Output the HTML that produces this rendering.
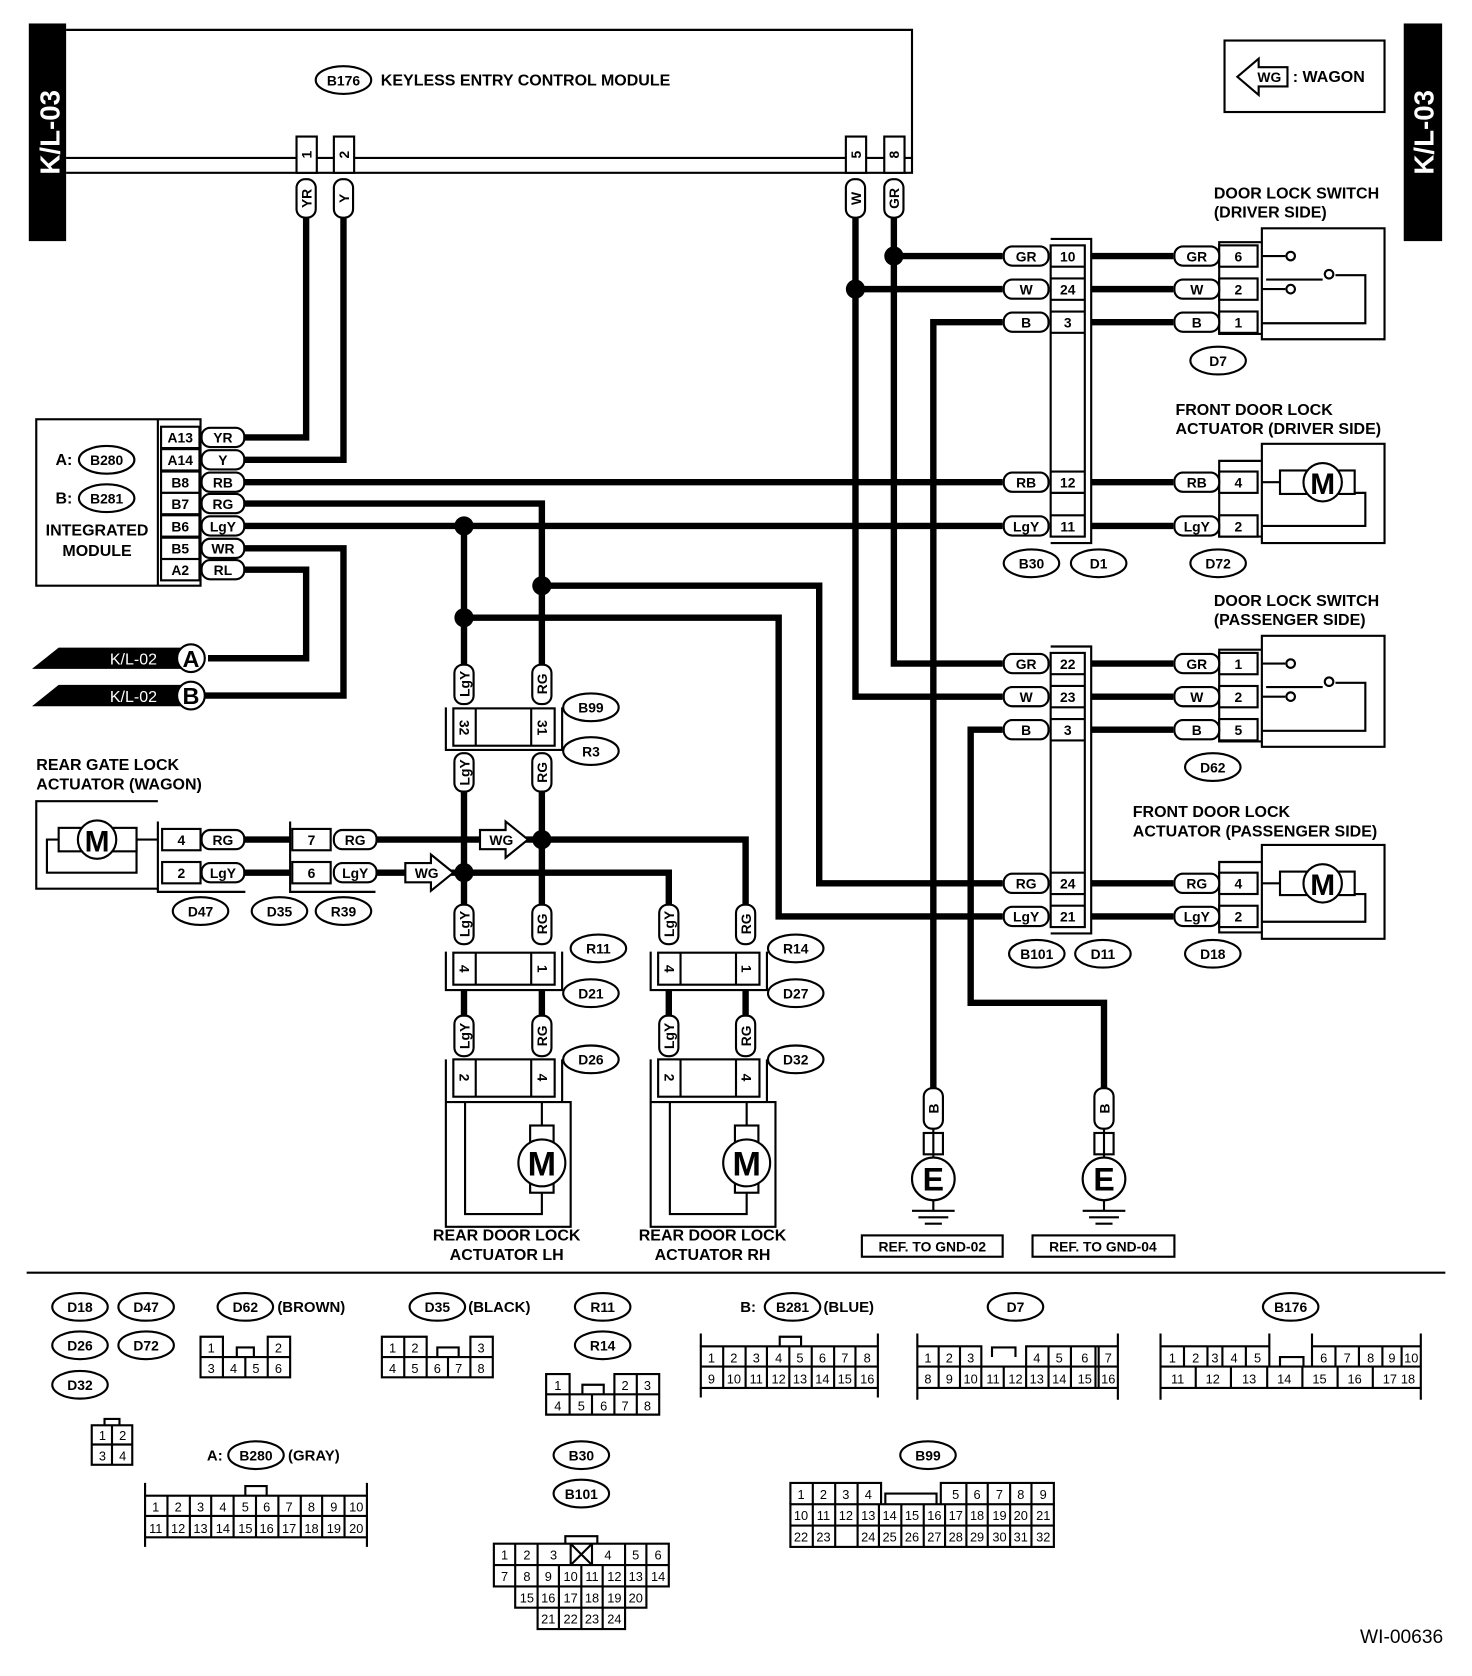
<!DOCTYPE html>
<html><head><meta charset="utf-8"><style>
html,body{margin:0;padding:0;background:#fff}
svg{display:block}
text{font-family:"Liberation Sans",Arial,sans-serif;font-weight:bold;fill:#000}
.t{font-size:15px}
.p{font-size:13px;text-anchor:middle}
.n{font-size:12px;font-weight:normal;text-anchor:middle}
.s{fill:none;stroke:#000;stroke-width:2}
.w{fill:none;stroke:#000;stroke-width:6;stroke-linejoin:miter}
.c{fill:#fff;stroke:#000;stroke-width:2}
</style></head><body>
<svg width="1472" height="1676" viewBox="0 0 1380 1571" preserveAspectRatio="none" xmlns="http://www.w3.org/2000/svg">
<rect width="1380" height="1571" fill="#fff"/>
<rect x="27" y="22" width="35" height="204" fill="#000"/>
<text transform="translate(56,124) rotate(-90)" style="font-size:26px;fill:#fff;text-anchor:middle">K/L-03</text>
<rect x="1316" y="22" width="36" height="204" fill="#000"/>
<text transform="translate(1344,124) rotate(-90)" style="font-size:26px;fill:#fff;text-anchor:middle">K/L-03</text>
<rect x="1148" y="38" width="150" height="67" class="s"/>
<polygon points="1160,72 1180,55 1180,63 1207,63 1207,81 1180,81 1180,89" class="c"/>
<text x="1190" y="77" class="p">WG</text>
<text x="1212" y="77" class="t">: WAGON</text>
<path d="M62 28 H855 V148 H62" class="s"/>
<path d="M62 162 H855 V148" class="s"/>
<ellipse cx="322" cy="75" rx="26" ry="13" class="s"/><text x="322" y="80" class="p">B176</text>
<text x="357" y="80" class="t">KEYLESS ENTRY CONTROL MODULE</text>
<g class="c"><rect x="278" y="128" width="19" height="34"/><rect x="313" y="128" width="19" height="34"/><rect x="793" y="128" width="19" height="34"/><rect x="829" y="128" width="19" height="34"/></g>
<text transform="translate(292,145) rotate(-90)" class="p">1</text>
<text transform="translate(327,145) rotate(-90)" class="p">2</text>
<text transform="translate(807,145) rotate(-90)" class="p">5</text>
<text transform="translate(843,145) rotate(-90)" class="p">8</text>
<g class="w">
<path d="M287 204 V410 H228"/><path d="M322 204 V431 H228"/>
<path d="M228 452 H940"/>
<path d="M228 472 H508 V623"/><path d="M508 742 V848"/><path d="M508 549 H768 V828 H940"/>
<path d="M228 493 H940"/><path d="M435 493 V623"/><path d="M435 742 V848"/><path d="M435 579 H730 V859 H940"/>
<path d="M228 514 H322 V652 H190"/><path d="M228 534 H287 V617 H195"/>
<path d="M838 204 V622 H940"/><path d="M838 240 H940"/>
<path d="M802 204 V653 H940"/><path d="M802 271 H940"/>
<path d="M940 302 H875 V1020"/><path d="M940 684 H910 V940 H1035 V1020"/>
<path d="M1023 240 H1100 M1023 271 H1100 M1023 302 H1100 M1023 452 H1100 M1023 493 H1100 M1023 622 H1100 M1023 653 H1100 M1023 684 H1100 M1023 828 H1100 M1023 859 H1100"/>
<path d="M228 787 H272 M228 818 H272 M352 787 H508 M352 818 H435"/>
<path d="M508 787 H699 V848"/><path d="M435 818 H627 V848"/>
<path d="M435 928 V952 M508 928 V952 M627 928 V952 M699 928 V952"/>
</g>
<g fill="#000"><circle cx="838" cy="240" r="9"/><circle cx="802" cy="271" r="9"/><circle cx="435" cy="493" r="9"/><circle cx="508" cy="549" r="9"/><circle cx="435" cy="579" r="9"/><circle cx="508" cy="787" r="9"/><circle cx="435" cy="818" r="9"/></g>
<g class="c">
<rect x="278" y="168" width="18" height="36" rx="8"/><rect x="313" y="168" width="18" height="36" rx="8"/>
<rect x="793" y="168" width="18" height="36" rx="8"/><rect x="829" y="168" width="18" height="36" rx="8"/>
<rect x="426" y="623" width="18" height="37" rx="8"/><rect x="499" y="623" width="18" height="37" rx="8"/>
<rect x="426" y="706" width="18" height="36" rx="8"/><rect x="499" y="706" width="18" height="36" rx="8"/>
<rect x="426" y="848" width="18" height="37" rx="8"/><rect x="499" y="848" width="18" height="37" rx="8"/>
<rect x="618" y="848" width="18" height="37" rx="8"/><rect x="690" y="848" width="18" height="37" rx="8"/>
<rect x="426" y="952" width="18" height="38" rx="8"/><rect x="499" y="952" width="18" height="38" rx="8"/>
<rect x="618" y="952" width="18" height="38" rx="8"/><rect x="690" y="952" width="18" height="38" rx="8"/>
<rect x="866" y="1020" width="18" height="38" rx="8"/><rect x="1026" y="1020" width="18" height="38" rx="8"/>
</g>
<g class="p">
<text transform="translate(292,186) rotate(-90)">YR</text><text transform="translate(327,186) rotate(-90)">Y</text>
<text transform="translate(807,186) rotate(-90)">W</text><text transform="translate(843,186) rotate(-90)">GR</text>
<text transform="translate(440,641) rotate(-90)">LgY</text><text transform="translate(513,641) rotate(-90)">RG</text>
<text transform="translate(440,724) rotate(-90)">LgY</text><text transform="translate(513,724) rotate(-90)">RG</text>
<text transform="translate(440,866) rotate(-90)">LgY</text><text transform="translate(513,866) rotate(-90)">RG</text>
<text transform="translate(632,866) rotate(-90)">LgY</text><text transform="translate(704,866) rotate(-90)">RG</text>
<text transform="translate(440,971) rotate(-90)">LgY</text><text transform="translate(513,971) rotate(-90)">RG</text>
<text transform="translate(632,971) rotate(-90)">LgY</text><text transform="translate(704,971) rotate(-90)">RG</text>
<text transform="translate(880,1039) rotate(-90)">B</text><text transform="translate(1040,1039) rotate(-90)">B</text>
</g>
<rect x="34" y="393" width="154" height="156" class="s"/>
<line x1="148" y1="393" x2="148" y2="549" class="s"/>
<g class="c">
<rect x="151" y="400" width="36" height="20"/><rect x="151" y="421" width="36" height="20"/><rect x="151" y="442" width="36" height="20"/><rect x="151" y="462" width="36" height="20"/><rect x="151" y="483" width="36" height="20"/><rect x="151" y="504" width="36" height="20"/><rect x="151" y="524" width="36" height="20"/>
<rect x="189" y="401" width="40" height="18" rx="8"/><rect x="189" y="422" width="40" height="18" rx="8"/><rect x="189" y="443" width="40" height="18" rx="8"/><rect x="189" y="463" width="40" height="18" rx="8"/><rect x="189" y="484" width="40" height="18" rx="8"/><rect x="189" y="505" width="40" height="18" rx="8"/><rect x="189" y="525" width="40" height="18" rx="8"/>
</g>
<g class="p">
<text x="169" y="415">A13</text><text x="169" y="436">A14</text><text x="169" y="457">B8</text><text x="169" y="477">B7</text><text x="169" y="498">B6</text><text x="169" y="519">B5</text><text x="169" y="539">A2</text>
<text x="209" y="415">YR</text><text x="209" y="436">Y</text><text x="209" y="457">RB</text><text x="209" y="477">RG</text><text x="209" y="498">LgY</text><text x="209" y="519">WR</text><text x="209" y="539">RL</text>
</g>
<text x="52" y="436" class="t">A:</text><ellipse cx="100" cy="431" rx="26" ry="13" class="s"/><text x="100" y="436" class="p">B280</text>
<text x="52" y="472" class="t">B:</text><ellipse cx="100" cy="467" rx="26" ry="13" class="s"/><text x="100" y="472" class="p">B281</text>
<text x="91" y="502" class="p" style="font-size:15px">INTEGRATED</text><text x="91" y="521" class="p" style="font-size:15px">MODULE</text>
<polygon points="30,627 55,607 170,607 170,627" fill="#000"/>
<polygon points="30,662 55,642 170,642 170,662" fill="#000"/>
<text x="103" y="623" style="font-size:15px;fill:#fff;font-weight:normal">K/L-02</text>
<text x="103" y="658" style="font-size:15px;fill:#fff;font-weight:normal">K/L-02</text>
<circle cx="179" cy="617" r="13" class="c" stroke-width="3"/><text x="179" y="625" class="p" style="font-size:22px">A</text>
<circle cx="179" cy="652" r="13" class="c" stroke-width="3"/><text x="179" y="660" class="p" style="font-size:22px">B</text>
<path d="M418 663 V703 H527 V663" class="s"/>
<rect x="425" y="664" width="95" height="35" class="c"/><line x1="446" y1="664" x2="446" y2="699" class="s"/><line x1="498" y1="664" x2="498" y2="699" class="s"/>
<text transform="translate(431,682) rotate(90)" class="p">32</text><text transform="translate(504,682) rotate(90)" class="p">31</text>
<ellipse cx="554" cy="663" rx="26" ry="13" class="s"/><text x="554" y="668" class="p">B99</text>
<ellipse cx="554" cy="704" rx="26" ry="13" class="s"/><text x="554" y="709" class="p">R3</text>
<text x="34" y="722" class="t">REAR GATE LOCK</text><text x="34" y="740" class="t">ACTUATOR (WAGON)</text>
<path d="M148 751 H34 V833 H148" class="s"/>
<path d="M148 787 H128 V818 H44 V787 H55" class="s"/>
<rect x="55" y="776" width="73" height="22" class="c"/>
<circle cx="91" cy="787" r="18" class="c"/><text x="91" y="798" class="p" style="font-size:28px">M</text>
<path d="M148 770 V836 H230" class="s"/><path d="M272 770 V836 H352" class="s"/>
<g class="c"><rect x="152" y="777" width="36" height="20"/><rect x="152" y="808" width="36" height="20"/><rect x="274" y="777" width="36" height="20"/><rect x="274" y="808" width="36" height="20"/>
<rect x="189" y="778" width="40" height="18" rx="8"/><rect x="189" y="809" width="40" height="18" rx="8"/><rect x="313" y="778" width="40" height="18" rx="8"/><rect x="313" y="809" width="40" height="18" rx="8"/></g>
<g class="p"><text x="170" y="792">4</text><text x="170" y="823">2</text><text x="292" y="792">7</text><text x="292" y="823">6</text>
<text x="209" y="792">RG</text><text x="209" y="823">LgY</text><text x="333" y="792">RG</text><text x="333" y="823">LgY</text></g>
<ellipse cx="188" cy="854" rx="26" ry="13" class="s"/><text x="188" y="859" class="p">D47</text>
<ellipse cx="262" cy="854" rx="26" ry="13" class="s"/><text x="262" y="859" class="p">D35</text>
<ellipse cx="322" cy="854" rx="26" ry="13" class="s"/><text x="322" y="859" class="p">R39</text>
<polygon points="450,778 474,778 474,770 495,787 474,804 474,796 450,796" class="c"/><text x="470" y="792" class="p">WG</text>
<polygon points="380,809 404,809 404,801 425,818 404,835 404,827 380,827" class="c"/><text x="400" y="823" class="p">WG</text>
<g>
<path d="M418 892 V928 H527 V892" class="s"/>
<rect x="425" y="893" width="95" height="30" class="c"/><line x1="446" y1="893" x2="446" y2="923" class="s"/><line x1="498" y1="893" x2="498" y2="923" class="s"/>
<path d="M418 993 V1033 H535 V1150 H418 V1033 M527 993 V1033" class="s"/>
<rect x="425" y="993" width="95" height="35" class="c"/><line x1="446" y1="993" x2="446" y2="1028" class="s"/><line x1="498" y1="993" x2="498" y2="1028" class="s"/>
<path d="M436 1033 V1138 H508 V1118 M508 1033 V1055" class="s"/>
<rect x="497" y="1055" width="22" height="63" class="c"/>
<circle cx="508" cy="1090" r="22" class="c"/><text x="508" y="1102" class="p" style="font-size:32px">M</text>
</g>
<g transform="translate(192,0)">
<path d="M418 892 V928 H527 V892" class="s"/>
<rect x="425" y="893" width="95" height="30" class="c"/><line x1="446" y1="893" x2="446" y2="923" class="s"/><line x1="498" y1="893" x2="498" y2="923" class="s"/>
<path d="M418 993 V1033 H535 V1150 H418 V1033 M527 993 V1033" class="s"/>
<rect x="425" y="993" width="95" height="35" class="c"/><line x1="446" y1="993" x2="446" y2="1028" class="s"/><line x1="498" y1="993" x2="498" y2="1028" class="s"/>
<path d="M436 1033 V1138 H508 V1118 M508 1033 V1055" class="s"/>
<rect x="497" y="1055" width="22" height="63" class="c"/>
<circle cx="508" cy="1090" r="22" class="c"/><text x="508" y="1102" class="p" style="font-size:32px">M</text>
</g>
<g class="p">
<text transform="translate(431,908) rotate(90)">4</text><text transform="translate(504,908) rotate(90)">1</text>
<text transform="translate(623,908) rotate(90)">4</text><text transform="translate(695,908) rotate(90)">1</text>
<text transform="translate(431,1010) rotate(90)">2</text><text transform="translate(504,1010) rotate(90)">4</text>
<text transform="translate(623,1010) rotate(90)">2</text><text transform="translate(695,1010) rotate(90)">4</text>
</g>
<g class="s"><ellipse cx="561" cy="889" rx="26" ry="13"/><ellipse cx="554" cy="931" rx="26" ry="13"/><ellipse cx="554" cy="993" rx="26" ry="13"/>
<ellipse cx="746" cy="889" rx="26" ry="13"/><ellipse cx="746" cy="931" rx="26" ry="13"/><ellipse cx="746" cy="993" rx="26" ry="13"/></g>
<g class="p"><text x="561" y="894">R11</text><text x="554" y="936">D21</text><text x="554" y="998">D26</text>
<text x="746" y="894">R14</text><text x="746" y="936">D27</text><text x="746" y="998">D32</text></g>
<text x="475" y="1163" class="p" style="font-size:15px">REAR DOOR LOCK</text><text x="475" y="1181" class="p" style="font-size:15px">ACTUATOR LH</text>
<text x="668" y="1163" class="p" style="font-size:15px">REAR DOOR LOCK</text><text x="668" y="1181" class="p" style="font-size:15px">ACTUATOR RH</text>
<path d="M985 224 H1023 V509 H985" class="s"/><rect x="985" y="230" width="32" height="273" class="c"/>
<path d="M985 606 H1023 V875 H985" class="s"/><rect x="985" y="612" width="32" height="257" class="c"/>
<g class="s"><path d="M985 250 H1017 M985 261 H1017 M985 281 H1017 M985 292 H1017 M985 312 H1017 M985 442 H1017 M985 462 H1017 M985 483 H1017 M985 632 H1017 M985 643 H1017 M985 663 H1017 M985 674 H1017 M985 694 H1017 M985 818 H1017 M985 838 H1017 M985 849 H1017"/></g>
<g class="c">
<rect x="941" y="231" width="42" height="18" rx="8"/><rect x="941" y="262" width="42" height="18" rx="8"/><rect x="941" y="293" width="42" height="18" rx="8"/><rect x="941" y="443" width="42" height="18" rx="8"/><rect x="941" y="484" width="42" height="18" rx="8"/>
<rect x="941" y="613" width="42" height="18" rx="8"/><rect x="941" y="644" width="42" height="18" rx="8"/><rect x="941" y="675" width="42" height="18" rx="8"/><rect x="941" y="819" width="42" height="18" rx="8"/><rect x="941" y="850" width="42" height="18" rx="8"/>
</g>
<g class="p">
<text x="962" y="245">GR</text><text x="962" y="276">W</text><text x="962" y="307">B</text><text x="962" y="457">RB</text><text x="962" y="498">LgY</text>
<text x="962" y="627">GR</text><text x="962" y="658">W</text><text x="962" y="689">B</text><text x="962" y="833">RG</text><text x="962" y="864">LgY</text>
<text x="1001" y="245">10</text><text x="1001" y="276">24</text><text x="1001" y="307">3</text><text x="1001" y="457">12</text><text x="1001" y="498">11</text>
<text x="1001" y="627">22</text><text x="1001" y="658">23</text><text x="1001" y="689">3</text><text x="1001" y="833">24</text><text x="1001" y="864">21</text>
</g>
<g class="s"><ellipse cx="967" cy="528" rx="26" ry="13"/><ellipse cx="1030" cy="528" rx="26" ry="13"/><ellipse cx="972" cy="894" rx="26" ry="13"/><ellipse cx="1034" cy="894" rx="26" ry="13"/></g>
<g class="p"><text x="967" y="533">B30</text><text x="1030" y="533">D1</text><text x="972" y="899">B101</text><text x="1034" y="899">D11</text></g>
<g class="t"><text x="1138" y="186">DOOR LOCK SWITCH</text><text x="1138" y="204">(DRIVER SIDE)</text>
<text x="1102" y="389">FRONT DOOR LOCK</text><text x="1102" y="407">ACTUATOR (DRIVER SIDE)</text>
<text x="1138" y="568">DOOR LOCK SWITCH</text><text x="1138" y="586">(PASSENGER SIDE)</text>
<text x="1062" y="766">FRONT DOOR LOCK</text><text x="1062" y="784">ACTUATOR (PASSENGER SIDE)</text></g>
<g>
<path d="M1183 214 H1298 V318 H1183 Z" class="s"/><path d="M1183 227 H1143 V313 H1183" class="s"/>
<g class="c"><rect x="1143" y="230" width="36" height="20"/><rect x="1143" y="261" width="36" height="20"/><rect x="1143" y="292" width="36" height="20"/></g>
<path d="M1183 240 H1205 M1183 271 H1205 M1187 262 H1240 M1183 303 H1280 V258 H1252" class="s"/>
<g class="c"><circle cx="1210" cy="240" r="4"/><circle cx="1210" cy="271" r="4"/><circle cx="1246" cy="257" r="4"/></g>
</g>
<g transform="translate(0,382)">
<path d="M1183 214 H1298 V318 H1183 Z" class="s"/><path d="M1183 227 H1143 V313 H1183" class="s"/>
<g class="c"><rect x="1143" y="230" width="36" height="20"/><rect x="1143" y="261" width="36" height="20"/><rect x="1143" y="292" width="36" height="20"/></g>
<path d="M1183 240 H1205 M1183 271 H1205 M1187 262 H1240 M1183 303 H1280 V258 H1252" class="s"/>
<g class="c"><circle cx="1210" cy="240" r="4"/><circle cx="1210" cy="271" r="4"/><circle cx="1246" cy="257" r="4"/></g>
</g>
<g>
<path d="M1183 416 H1298 V509 H1183 Z" class="s"/><path d="M1183 432 H1143 V503 H1183" class="s"/>
<g class="c"><rect x="1143" y="442" width="36" height="20"/><rect x="1143" y="483" width="36" height="20"/></g>
<path d="M1183 452 H1200 M1183 493 H1280 V462 H1270" class="s"/>
<rect x="1200" y="441" width="70" height="22" class="c"/>
<circle cx="1240" cy="452" r="18" class="c"/><text x="1240" y="463" class="p" style="font-size:28px">M</text>
</g>
<g>
<path d="M1183 792 H1298 V880 H1183 Z" class="s"/><path d="M1183 808 H1143 V874 H1183" class="s"/>
<g class="c"><rect x="1143" y="818" width="36" height="20"/><rect x="1143" y="849" width="36" height="20"/></g>
<path d="M1183 828 H1200 M1183 864 H1280 V838 H1270" class="s"/>
<rect x="1200" y="817" width="70" height="22" class="c"/>
<circle cx="1240" cy="828" r="18" class="c"/><text x="1240" y="839" class="p" style="font-size:28px">M</text>
</g>
<g class="c">
<rect x="1101" y="231" width="42" height="18" rx="8"/><rect x="1101" y="262" width="42" height="18" rx="8"/><rect x="1101" y="293" width="42" height="18" rx="8"/><rect x="1101" y="443" width="42" height="18" rx="8"/><rect x="1101" y="484" width="42" height="18" rx="8"/>
<rect x="1101" y="613" width="42" height="18" rx="8"/><rect x="1101" y="644" width="42" height="18" rx="8"/><rect x="1101" y="675" width="42" height="18" rx="8"/><rect x="1101" y="819" width="42" height="18" rx="8"/><rect x="1101" y="850" width="42" height="18" rx="8"/>
</g>
<g class="p">
<text x="1122" y="245">GR</text><text x="1122" y="276">W</text><text x="1122" y="307">B</text><text x="1122" y="457">RB</text><text x="1122" y="498">LgY</text>
<text x="1122" y="627">GR</text><text x="1122" y="658">W</text><text x="1122" y="689">B</text><text x="1122" y="833">RG</text><text x="1122" y="864">LgY</text>
<text x="1161" y="245">6</text><text x="1161" y="276">2</text><text x="1161" y="307">1</text><text x="1161" y="457">4</text><text x="1161" y="498">2</text>
<text x="1161" y="627">1</text><text x="1161" y="658">2</text><text x="1161" y="689">5</text><text x="1161" y="833">4</text><text x="1161" y="864">2</text>
</g>
<g class="s"><ellipse cx="1142" cy="338" rx="26" ry="13"/><ellipse cx="1142" cy="528" rx="26" ry="13"/><ellipse cx="1137" cy="719" rx="26" ry="13"/><ellipse cx="1137" cy="894" rx="26" ry="13"/></g>
<g class="p"><text x="1142" y="343">D7</text><text x="1142" y="533">D72</text><text x="1137" y="724">D62</text><text x="1137" y="899">D18</text></g>
<g>
<rect x="866" y="1062" width="18" height="20" class="c"/><line x1="875" y1="1058" x2="875" y2="1085" class="s"/>
<circle cx="875" cy="1105" r="20" class="c" stroke-width="3"/><text x="875" y="1116" class="p" style="font-size:30px">E</text>
<path d="M875 1125 V1135 M855 1135 H895 M861 1141 H889 M867 1147 H883" class="s"/>
<rect x="808" y="1158" width="132" height="20" class="s"/><text x="874" y="1173" class="p">REF. TO GND-02</text>
</g>
<g>
<rect x="1026" y="1062" width="18" height="20" class="c"/><line x1="1035" y1="1058" x2="1035" y2="1085" class="s"/>
<circle cx="1035" cy="1105" r="20" class="c" stroke-width="3"/><text x="1035" y="1116" class="p" style="font-size:30px">E</text>
<path d="M1035 1125 V1135 M1015 1135 H1055 M1021 1141 H1049 M1027 1147 H1043" class="s"/>
<rect x="968" y="1158" width="133" height="20" class="s"/><text x="1034" y="1173" class="p">REF. TO GND-04</text>
</g>
<line x1="25" y1="1193" x2="1355" y2="1193" class="s"/>
<g class="s">
<ellipse cx="75" cy="1225" rx="26" ry="13"/><ellipse cx="137" cy="1225" rx="26" ry="13"/><ellipse cx="75" cy="1261" rx="26" ry="13"/><ellipse cx="137" cy="1261" rx="26" ry="13"/><ellipse cx="75" cy="1298" rx="26" ry="13"/>
<ellipse cx="230" cy="1225" rx="26" ry="13"/><ellipse cx="410" cy="1225" rx="26" ry="13"/><ellipse cx="565" cy="1225" rx="26" ry="13"/><ellipse cx="565" cy="1261" rx="26" ry="13"/>
<ellipse cx="743" cy="1225" rx="26" ry="13"/><ellipse cx="952" cy="1225" rx="26" ry="13"/><ellipse cx="1210" cy="1225" rx="26" ry="13"/>
<ellipse cx="240" cy="1364" rx="26" ry="13"/><ellipse cx="545" cy="1364" rx="26" ry="13"/><ellipse cx="545" cy="1400" rx="26" ry="13"/><ellipse cx="870" cy="1364" rx="26" ry="13"/>
</g>
<g class="p">
<text x="75" y="1230">D18</text><text x="137" y="1230">D47</text><text x="75" y="1266">D26</text><text x="137" y="1266">D72</text><text x="75" y="1303">D32</text>
<text x="230" y="1230">D62</text><text x="410" y="1230">D35</text><text x="565" y="1230">R11</text><text x="565" y="1266">R14</text>
<text x="743" y="1230">B281</text><text x="952" y="1230">D7</text><text x="1210" y="1230">B176</text>
<text x="240" y="1369">B280</text><text x="545" y="1369">B30</text><text x="545" y="1405">B101</text><text x="870" y="1369">B99</text>
</g>
<g class="t" style="font-size:14px"><text x="260" y="1230">(BROWN)</text><text x="439" y="1230">(BLACK)</text><text x="694" y="1230">B:</text><text x="772" y="1230">(BLUE)</text>
<text x="194" y="1369">A:</text><text x="270" y="1369">(GRAY)</text></g>
<g class="s"><rect x="86" y="1336" width="38" height="37"/><path d="M86 1354 H124 M105 1336 V1373 M98 1336 V1330 H112 V1336"/></g>
<text class="n" y="1350"><tspan x="96">1</tspan><tspan x="115">2</tspan></text><text class="n" y="1369"><tspan x="96">3</tspan><tspan x="115">4</tspan></text>
<g class="s"><path d="M188 1253 H209 V1272 H188 Z M251 1253 H272 V1272 H251 Z M188 1272 H272 V1291 H188 Z M209 1272 V1291 M230 1272 V1291 M251 1272 V1291 M222 1272 V1263 H238 V1272"/></g>
<text class="n" y="1268"><tspan x="198">1</tspan><tspan x="261">2</tspan></text><text class="n" y="1287"><tspan x="198">3</tspan><tspan x="219">4</tspan><tspan x="240">5</tspan><tspan x="261">6</tspan></text>
<g class="s"><path d="M358 1253 H400 V1272 H358 Z M379 1253 V1272 M441 1253 H462 V1272 H441 Z M358 1272 H462 V1291 H358 Z M379 1272 V1291 M400 1272 V1291 M420 1272 V1291 M441 1272 V1291 M410 1272 V1263 H430 V1272"/></g>
<text class="n" y="1268"><tspan x="368">1</tspan><tspan x="389">2</tspan><tspan x="451">3</tspan></text><text class="n" y="1287"><tspan x="368">4</tspan><tspan x="389">5</tspan><tspan x="410">6</tspan><tspan x="430">7</tspan><tspan x="451">8</tspan></text>
<g class="s"><path d="M512 1288 H534 V1307 H512 Z M576 1288 H618 V1307 H576 Z M597 1288 V1307 M512 1307 H618 V1326 H512 Z M534 1307 V1326 M555 1307 V1326 M576 1307 V1326 M597 1307 V1326 M546 1307 V1298 H566 V1307"/></g>
<text class="n" y="1303"><tspan x="523">1</tspan><tspan x="586">2</tspan><tspan x="607">3</tspan></text><text class="n" y="1322"><tspan x="523">4</tspan><tspan x="545">5</tspan><tspan x="566">6</tspan><tspan x="586">7</tspan><tspan x="607">8</tspan></text>
<g class="s"><rect x="657" y="1262" width="166" height="39"/><path d="M657 1281 H823 M678 1262 V1301 M699 1262 V1301 M719 1262 V1301 M740 1262 V1301 M761 1262 V1301 M782 1262 V1301 M802 1262 V1301 M731 1262 V1253 H751 V1262 M657 1262 V1250 M823 1262 V1250 M657 1301 V1310 M823 1301 V1310"/></g>
<text class="n" y="1277"><tspan x="667">1</tspan><tspan x="688">2</tspan><tspan x="709">3</tspan><tspan x="730">4</tspan><tspan x="750">5</tspan><tspan x="771">6</tspan><tspan x="792">7</tspan><tspan x="813">8</tspan></text>
<text class="n" y="1297"><tspan x="667">9</tspan><tspan x="688">10</tspan><tspan x="709">11</tspan><tspan x="730">12</tspan><tspan x="750">13</tspan><tspan x="771">14</tspan><tspan x="792">15</tspan><tspan x="813">16</tspan></text>
<g class="s"><path d="M860 1262 H920 V1281 M962 1281 V1262 H1048 M860 1262 V1301 H1048 V1262 M860 1281 H1048 M880 1262 V1301 M900 1262 V1301 M920 1281 V1301 M941 1281 V1301 M962 1281 V1301 M983 1262 V1301 M1004 1262 V1301 M1027 1262 V1301 M1030 1262 V1301 M930 1272 V1263 H952 V1272 M860 1262 V1250 M1048 1262 V1250 M860 1301 V1312 M1048 1301 V1312"/></g>
<text class="n" y="1277"><tspan x="870">1</tspan><tspan x="890">2</tspan><tspan x="910">3</tspan><tspan x="972">4</tspan><tspan x="993">5</tspan><tspan x="1017">6</tspan><tspan x="1039">7</tspan></text>
<text class="n" y="1297"><tspan x="870">8</tspan><tspan x="890">9</tspan><tspan x="910">10</tspan><tspan x="931">11</tspan><tspan x="952">12</tspan><tspan x="972">13</tspan><tspan x="993">14</tspan><tspan x="1017">15</tspan><tspan x="1039">16</tspan></text>
<g class="s"><path d="M1088 1262 H1190 V1281 M1230 1281 V1262 H1332 M1088 1262 V1301 H1332 V1262 M1088 1281 H1332 M1110 1262 V1281 M1132 1262 V1281 M1146 1262 V1281 M1168 1262 V1281 M1252 1262 V1281 M1274 1262 V1281 M1296 1262 V1281 M1314 1262 V1281 M1121 1281 V1301 M1154 1281 V1301 M1188 1281 V1301 M1221 1281 V1301 M1254 1281 V1301 M1287 1281 V1301 M1200 1281 V1272 H1222 V1281 M1088 1262 V1250 M1332 1262 V1250 M1088 1301 V1312 M1332 1301 V1312 M1190 1262 V1250 M1230 1262 V1250"/></g>
<text class="n" y="1277"><tspan x="1099">1</tspan><tspan x="1121">2</tspan><tspan x="1139">3</tspan><tspan x="1157">4</tspan><tspan x="1179">5</tspan><tspan x="1241">6</tspan><tspan x="1263">7</tspan><tspan x="1285">8</tspan><tspan x="1305">9</tspan><tspan x="1323">10</tspan></text>
<text class="n" y="1297"><tspan x="1104">11</tspan><tspan x="1137">12</tspan><tspan x="1171">13</tspan><tspan x="1204">14</tspan><tspan x="1237">15</tspan><tspan x="1270">16</tspan><tspan x="1303">17</tspan><tspan x="1320">18</tspan></text>
<g class="s"><rect x="136" y="1402" width="208" height="39"/><path d="M136 1421 H344 M157 1402 V1441 M178 1402 V1441 M198 1402 V1441 M219 1402 V1441 M240 1402 V1441 M261 1402 V1441 M282 1402 V1441 M302 1402 V1441 M323 1402 V1441 M230 1402 V1393 H250 V1402 M136 1402 V1390 M344 1402 V1390 M136 1441 V1450 M344 1441 V1450"/></g>
<text class="n" y="1417"><tspan x="146">1</tspan><tspan x="167">2</tspan><tspan x="188">3</tspan><tspan x="209">4</tspan><tspan x="230">5</tspan><tspan x="250">6</tspan><tspan x="271">7</tspan><tspan x="292">8</tspan><tspan x="313">9</tspan><tspan x="334">10</tspan></text>
<text class="n" y="1437"><tspan x="146">11</tspan><tspan x="167">12</tspan><tspan x="188">13</tspan><tspan x="209">14</tspan><tspan x="230">15</tspan><tspan x="250">16</tspan><tspan x="271">17</tspan><tspan x="292">18</tspan><tspan x="313">19</tspan><tspan x="334">20</tspan></text>
<g class="s"><path d="M463 1447 H627 V1487 H463 Z M463 1467 H627 M483 1447 V1487 M504 1447 V1487 M524 1467 V1487 M545 1467 V1487 M565 1467 V1487 M586 1447 V1487 M606 1447 V1487 M535 1447 V1467 M555 1447 V1467 M535 1447 L555 1467 M555 1447 L535 1467 M483 1487 V1507 H606 V1487 M504 1487 V1527 H586 V1487 M524 1487 V1527 M545 1487 V1527 M565 1487 V1527 M504 1507 H586 M530 1447 V1440 H560 V1447"/></g>
<text class="n" y="1462"><tspan x="473">1</tspan><tspan x="494">2</tspan><tspan x="519">3</tspan><tspan x="570">4</tspan><tspan x="596">5</tspan><tspan x="617">6</tspan></text>
<text class="n" y="1482"><tspan x="473">7</tspan><tspan x="494">8</tspan><tspan x="514">9</tspan><tspan x="535">10</tspan><tspan x="555">11</tspan><tspan x="576">12</tspan><tspan x="596">13</tspan><tspan x="617">14</tspan></text>
<text class="n" y="1502"><tspan x="494">15</tspan><tspan x="514">16</tspan><tspan x="535">17</tspan><tspan x="555">18</tspan><tspan x="576">19</tspan><tspan x="596">20</tspan></text>
<text class="n" y="1522"><tspan x="514">21</tspan><tspan x="535">22</tspan><tspan x="555">23</tspan><tspan x="576">24</tspan></text>
<g class="s"><path d="M741 1410 V1390 H826 V1410 M882 1410 V1390 H988 V1410"/><rect x="741" y="1410" width="247" height="40"/><path d="M741 1430 H988 M762 1390 V1450 M783 1390 V1450 M804 1390 V1450 M824 1410 V1450 M845 1410 V1450 M866 1410 V1450 M886 1410 V1450 M906 1390 V1450 M926 1390 V1450 M947 1390 V1450 M967 1390 V1450 M830 1410 V1400 H878 V1410"/></g>
<text class="n" y="1405"><tspan x="751">1</tspan><tspan x="772">2</tspan><tspan x="793">3</tspan><tspan x="814">4</tspan><tspan x="896">5</tspan><tspan x="916">6</tspan><tspan x="937">7</tspan><tspan x="957">8</tspan><tspan x="978">9</tspan></text>
<text class="n" y="1425"><tspan x="751">10</tspan><tspan x="772">11</tspan><tspan x="793">12</tspan><tspan x="814">13</tspan><tspan x="834">14</tspan><tspan x="855">15</tspan><tspan x="876">16</tspan><tspan x="896">17</tspan><tspan x="916">18</tspan><tspan x="937">19</tspan><tspan x="957">20</tspan><tspan x="978">21</tspan></text>
<text class="n" y="1445"><tspan x="751">22</tspan><tspan x="772">23</tspan><tspan x="814">24</tspan><tspan x="834">25</tspan><tspan x="855">26</tspan><tspan x="876">27</tspan><tspan x="896">28</tspan><tspan x="916">29</tspan><tspan x="937">30</tspan><tspan x="957">31</tspan><tspan x="978">32</tspan></text>
<text x="1353" y="1540" style="font-size:18px;font-weight:normal;text-anchor:end">WI-00636</text>
</svg>
</body></html>
